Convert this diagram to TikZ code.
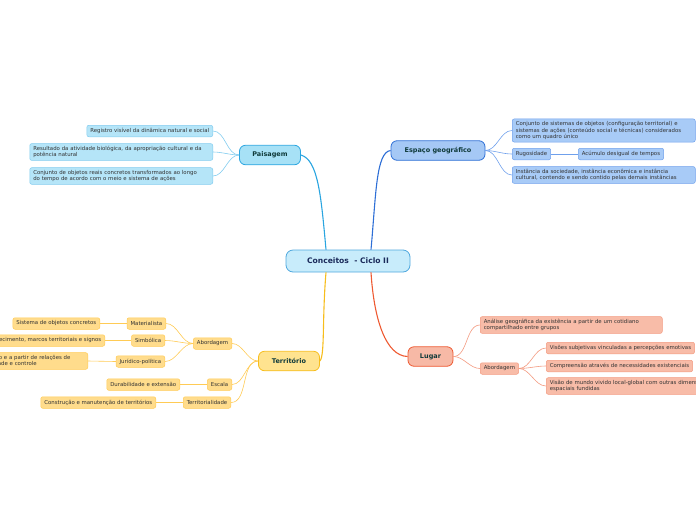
\documentclass[tikz,border=0pt]{standalone}
\usepackage{fontspec}
\setmainfont{DejaVu Sans}
\definecolor{cenF}{HTML}{C8ECFB}\definecolor{cenB}{HTML}{4FA8DE}
\definecolor{paF}{HTML}{A7E1F6}\definecolor{paB}{HTML}{2AA5E0}
\definecolor{palF}{HTML}{B5E5F8}\definecolor{palB}{HTML}{82CCEF}
\definecolor{esF}{HTML}{A5C8F5}\definecolor{esB}{HTML}{2E6FD6}
\definecolor{eslF}{HTML}{A8CBF7}\definecolor{eslB}{HTML}{6FA0EC}
\definecolor{teF}{HTML}{FFE38F}\definecolor{teB}{HTML}{F7BD1C}
\definecolor{telF}{HTML}{FFDC8C}\definecolor{telB}{HTML}{FFCB55}
\definecolor{luF}{HTML}{F7B9A6}\definecolor{luB}{HTML}{EE5A32}
\definecolor{lulF}{HTML}{F8BCA8}\definecolor{lulB}{HTML}{F39A80}
\definecolor{headT}{HTML}{0F3A3A}\definecolor{leafT}{HTML}{333333}
\definecolor{cenT}{HTML}{1A2A5A}
\tikzset{
  central/.style={draw=cenB,fill=cenF,line width=0.8pt,rounded corners=7pt,minimum width=124pt,minimum height=22pt,font=\fontsize{7.6}{9}\selectfont\bfseries,text=cenT,inner sep=0pt},
  mainbox/.style={line width=0.8pt,rounded corners=6pt,minimum height=19.5pt,font=\fontsize{6.5}{8}\selectfont\bfseries,text=headT,inner sep=0pt},
  leaf/.style={line width=0.5pt,rounded corners=2pt,font=\fontsize{5.4}{6.5}\selectfont,text=leafT,inner xsep=3.5pt,inner ysep=2.4pt,minimum height=11.5pt,align=left},
  pal/.style={leaf,fill=palF,draw=palB},
  esl/.style={leaf,fill=eslF,draw=eslB},
  tel/.style={leaf,fill=telF,draw=telB},
  lul/.style={leaf,fill=lulF,draw=lulB},
  pac/.style={draw=palB,line width=0.6pt},
  esc/.style={draw=eslB,line width=0.6pt},
  tec/.style={draw=telB,line width=0.6pt},
  luc/.style={draw=lulB,line width=0.6pt},
  lnk/.style={out=180,in=0,looseness=0.9},
  rnk/.style={out=0,in=180,looseness=0.9},
}
\begin{document}
\begin{tikzpicture}[x=1pt,y=-1pt]
\useasboundingbox (0,0) rectangle (696,520);
% central
\node[central] (c) at (348,261) {Conceitos~~- Ciclo II};
% Paisagem
\node[mainbox,draw=paB,fill=paF,minimum width=61pt] (pa) at (270,155) {Paisagem};
\node[pal,anchor=east] (p1) at (213,131) {Registro visível da dinâmica natural e social};
\node[pal,anchor=east,text width=176pt] (p2) at (213,152) {Resultado da atividade biológica, da apropriação cultural e da\\potência natural};
\node[pal,anchor=east,text width=176pt] (p3) at (213,176) {Conjunto de objetos reais concretos transformados ao longo\\do tempo de acordo com o meio e sistema de ações};
% Espaço
\node[mainbox,draw=esB,fill=esF,minimum width=94pt] (es) at (438,150.5) {Espaço geográfico};
\node[esl,anchor=west,text width=176pt] (e1) at (512,130.5) {Conjunto de sistemas de objetos (configuração territorial) e\\sistemas de ações (conteúdo social e técnicas) considerados\\como um quadro único};
\node[esl,anchor=west] (e2) at (512,154) {Rugosidade};
\node[esl,anchor=west] (e3) at (578,154) {Acúmulo desigual de tempos};
\node[esl,anchor=west,text width=176pt] (e4) at (512,175) {Instância da sociedade, instância econômica e instância\\cultural, contendo e sendo contido pelas demais instâncias};
% Território
\node[mainbox,draw=teB,fill=teF,minimum width=61pt] (te) at (289,361) {Território};
\node[tel,anchor=east] (ta) at (232,343.5) {Abordagem};
\node[tel,anchor=east] (tm) at (166,323.5) {Materialista};
\node[tel,anchor=east] (tm1) at (100,323.5) {Sistema de objetos concretos};
\node[tel,anchor=east] (ts) at (165,340.5) {Simbólica};
\node[tel,anchor=east] (ts1) at (105,340.5) {Reconhecimento, marcos territoriais e signos};
\node[tel,anchor=east] (tj) at (165,361.5) {Jurídico-política};
\node[tel,anchor=east,text width=125pt] (tj1) at (88,361) {Espaço definido e a partir de relações de\\poder, autoridade e controle};
\node[tel,anchor=east] (tsc) at (232,384.5) {Escala};
\node[tel,anchor=east] (tsc1) at (180,384.5) {Durabilidade e extensão};
\node[tel,anchor=east] (tt) at (231,402.5) {Territorialidade};
\node[tel,anchor=east] (tt1) at (156,402.5) {Construção e manutenção de territórios};
% Lugar
\node[mainbox,draw=luB,fill=luF,minimum width=45pt] (lu) at (430.5,356.5) {Lugar};
\node[lul,anchor=west,text width=175pt] (l1) at (480,325) {Análise geográfica da existência a partir de um cotidiano\\compartilhado entre grupos};
\node[lul,anchor=west] (la) at (480,368.5) {Abordagem};
\node[lul,anchor=west] (la1) at (546,348) {Visões subjetivas vinculadas a percepções emotivas};
\node[lul,anchor=west] (la2) at (546,366) {Compreensão através de necessidades existenciais};
\node[lul,anchor=west,text width=176pt] (la3) at (546,386) {Visão de mundo vivido local-global com outras dimensões\\espaciais fundidas};
% main connectors
\coordinate (cpa) at ([xshift=-22pt]c.north);
\coordinate (ces) at ([xshift=23pt]c.north);
\coordinate (cte) at ([xshift=-22pt]c.south);
\coordinate (clu) at ([xshift=23pt]c.south);
\draw[paB,line width=1.1pt] (cpa) .. controls (321,195) and (318,160) .. (pa.east);
\draw[esB,line width=1.1pt] (ces) .. controls (376,195) and (376,152) .. (es.west);
\draw[teB,line width=1.1pt] (cte) .. controls (322,320) and (325,355) .. (te.east);
\draw[luB,line width=1.1pt] (clu) .. controls (374,320) and (386,356) .. (lu.west);
% leaf connectors
\draw[pac] (pa.west) to[lnk] (p1.east);
\draw[pac] (pa.west) to[lnk] (p2.east);
\draw[pac] (pa.west) to[lnk] (p3.east);
\draw[esc] (es.east) to[rnk] (e1.west);
\draw[esc] (es.east) to[rnk] (e2.west);
\draw[esc] (es.east) to[rnk] (e4.west);
\draw[esc] (e2.east) -- (e3.west);
\draw[tec] (te.west) to[lnk] (ta.east);
\draw[tec] (te.west) to[lnk] (tsc.east);
\draw[tec] (te.west) to[lnk] (tt.east);
\draw[tec] (ta.west) to[lnk] (tm.east);
\draw[tec] (ta.west) to[lnk] (ts.east);
\draw[tec] (ta.west) to[lnk] (tj.east);
\draw[tec] (tm.west) -- (tm1.east);
\draw[tec] (ts.west) -- (ts1.east);
\draw[tec] (tj.west) -- (tj1.east);
\draw[tec] (tsc.west) -- (tsc1.east);
\draw[tec] (tt.west) -- (tt1.east);
\draw[luc] (lu.east) to[rnk] (l1.west);
\draw[luc] (lu.east) to[rnk] (la.west);
\draw[luc] (la.east) to[rnk] (la1.west);
\draw[luc] (la.east) to[rnk] (la2.west);
\draw[luc] (la.east) to[rnk] (la3.west);
\end{tikzpicture}
\end{document}
